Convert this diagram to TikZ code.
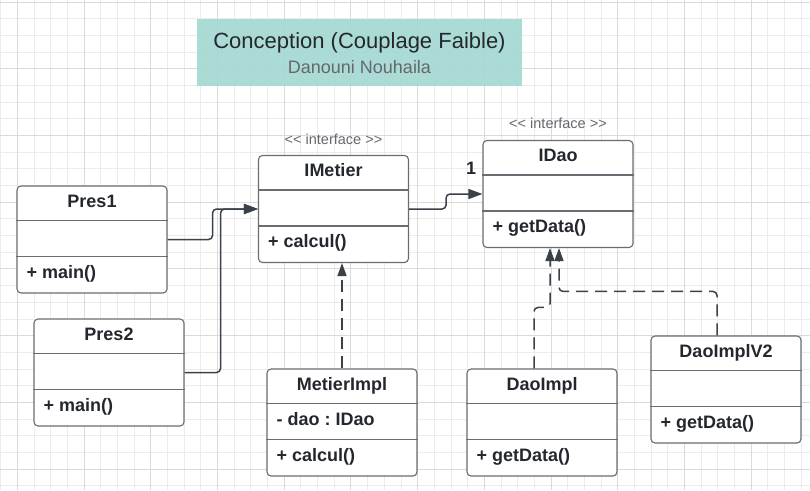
\documentclass[tikz,border=0pt]{standalone}
\usepackage{fontspec}
\setmainfont{Liberation Sans}
\usepackage{tikz}
\usetikzlibrary{positioning,arrows.meta,calc}
\definecolor{gridminor}{RGB}{236,236,236}
\definecolor{gridmajor}{RGB}{218,218,218}
\definecolor{titleteal}{RGB}{162,216,209}
\definecolor{lineink}{RGB}{58,65,74}
\definecolor{boxedge}{RGB}{105,109,115}
\definecolor{textink}{RGB}{36,40,46}
\definecolor{stereogrey}{RGB}{100,104,110}
\frenchspacing

% one UML class: name, centre, title, attribute, operation
\newcommand{\umlclass}[5]{%
  \node[classbox] (#1) at (#2) {};
  \draw[classrule] ([yshift=-35pt]#1.north west) -- ([yshift=-35pt]#1.north east);
  \draw[classrule] ([yshift=-71pt]#1.north west) -- ([yshift=-71pt]#1.north east);
  \node[classname] (#1-name) at ([yshift=-22pt]#1.north) {#3};
  \node[member] (#1-attr) at ([xshift=10pt,yshift=-57pt]#1.north west) {#4};
  \node[member] (#1-op) at ([xshift=10pt,yshift=-93pt]#1.north west) {#5};
}

\begin{document}
\begin{tikzpicture}[
    x=1pt, y=-1pt,
    classbox/.style={rectangle, draw=boxedge, line width=1.1pt, rounded corners=4pt, fill=white, minimum width=150pt, minimum height=107pt, inner sep=0pt},
    classrule/.style={draw=boxedge, line width=1.1pt},
    classname/.style={anchor=base, inner sep=0pt, text=textink, font=\bfseries\fontsize{18}{21}\selectfont},
    member/.style={anchor=base west, inner sep=0pt, text=textink, font=\bfseries\fontsize{18}{21}\selectfont},
    stereo/.style={anchor=base, inner sep=0pt, text=stereogrey, font=\fontsize{14.5}{17}\selectfont},
    titlebox/.style={rectangle, fill=titleteal, fill opacity=0.9, minimum width=325pt, minimum height=67pt, inner sep=0pt},
    assoc/.style={draw=lineink, line width=1.5pt, rounded corners=4pt, -{Triangle[length=14pt,width=10pt]}},
    realize/.style={draw=lineink, line width=1.5pt, dash pattern=on 12pt off 7pt, rounded corners=4pt, -{Triangle[length=13pt,width=9pt]}}
  ]

\useasboundingbox (0,0) rectangle (810,490);
\fill[white] (0,0) rectangle (810,490);
\foreach \g in {0,...,48} {
  \draw[gridminor, line width=0.8pt] ({0.6+16.68*\g},0) -- ++(0,490);
}
\foreach \g in {0,...,29} {
  \draw[gridminor, line width=0.8pt] (0,{2+16.68*\g}) -- ++(810,0);
}
\foreach \g in {0,...,12} {
  \draw[gridmajor, line width=0.8pt] ({17.28+66.72*\g},0) -- ++(0,490);
}
\foreach \g in {0,...,7} {
  \draw[gridmajor, line width=0.8pt] (0,{2+66.72*\g}) -- ++(810,0);
}

\node[titlebox] (banner) at (359.5,52.5) {};
\node[anchor=base, inner sep=0pt, text=textink, font=\fontsize{22}{26}\selectfont] (title) at (359.5,48) {Conception (Couplage Faible)};
\node[anchor=base, inner sep=0pt, text=stereogrey, font=\fontsize{18}{21}\selectfont] (author) at (359.5,73) {Danouni Nouhaila};

\umlclass{pres1}{92,239.5}{Pres1}{}{+ main()}
\umlclass{pres2}{109,372.5}{Pres2}{}{+ main()}
\umlclass{imetier}{333.5,209}{IMetier}{}{+ calcul()}
\umlclass{idao}{558,194}{IDao}{}{+ getData()}
\umlclass{metierimpl}{342,422.5}{MetierImpl}{- dao : IDao}{+ calcul()}
\umlclass{daoimpl}{542,422.5}{DaoImpl}{}{+ getData()}
\umlclass{daoimplv2}{726,389.5}{DaoImplV2}{}{+ getData()}

\node[stereo] (imetier-stereo) at ([yshift=10pt]imetier.north) {<\kern0pt< interface >\kern0pt>};
\node[stereo] (idao-stereo) at ([yshift=11pt]idao.north) {<\kern0pt< interface >\kern0pt>};
\node[anchor=base east, inner sep=0pt, text=textink, font=\bfseries\fontsize{18}{21}\selectfont] (mult) at ([xshift=-6pt,yshift=-35pt]idao.north west) {1};

\draw[assoc] (pres1.east) -- ++(45,0) |- (imetier.west);
\draw[assoc] (pres2.east) -- ++(36,0) |- (imetier.west);
\draw[assoc] (imetier.east) -- ++(37,0) |- (idao.west);
\draw[realize] (metierimpl.north) -- (metierimpl.north |- imetier.south);
\draw[realize] ([xshift=-8pt]daoimpl.north) -- ++(0,-61) -| ([xshift=-8pt]idao.south);
\draw[realize] ([xshift=-9pt]daoimplv2.north) -- ++(0,-44) -| ([xshift=1pt]idao.south);

\end{tikzpicture}
\end{document}
